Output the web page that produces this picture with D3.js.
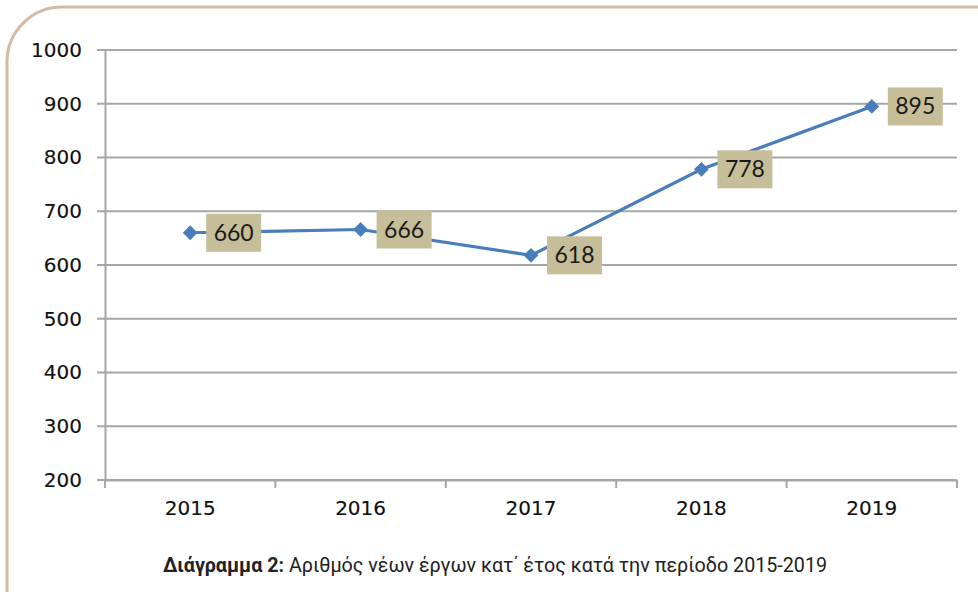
<!DOCTYPE html>
<head>
  <meta charset="utf-8">
  <script src="https://d3js.org/d3.v7.min.js"></script>
  <style>
    body { margin:0; background:#fff; }
    svg { display:block; }
  </style>
</head>
<body>
  <script>
    // chart values
    var years = ["2015", "2016", "2017", "2018", "2019"],
        projects = [660, 666, 618, 778, 895],
        yTicks = [200, 300, 400, 500, 600, 700, 800, 900, 1000];

    var W = 978, H = 592;
    var svg = d3.select("body").append("svg").attr("width", W).attr("height", H);

    // rounded frame
    svg.append("path")
      .attr("d", "M7,592 L7,62 A55,55 0 0 1 62,7 L978,7")
      .attr("fill", "none")
      .attr("stroke", "#d6b8a7")
      .attr("stroke-width", 3);

    var plotL = 105, plotR = 957, plotT = 50, plotB = 480;

    var x = d3.scaleBand().domain(years).range([plotL, plotR]);
    var y = d3.scaleLinear().domain([200, 1000]).range([plotB, plotT]);

    // gridlines
    svg.append("g").selectAll("line").data(yTicks)
      .enter().append("line")
        .attr("x1", plotL - 8).attr("x2", plotR)
        .attr("y1", function(d){ return y(d); })
        .attr("y2", function(d){ return y(d); })
        .attr("stroke", "#a6a6a6")
        .attr("stroke-width", 2);

    // y axis
    var yAxis = svg.append("g")
      .attr("transform", "translate(" + plotL + ",0)")
      .call(d3.axisLeft(y).tickValues(yTicks).tickFormat(d3.format("d")).tickSize(0).tickPadding(23));
    yAxis.select(".domain").attr("stroke", "#a6a6a6").attr("stroke-width", 2);
    yAxis.selectAll("text")
      .attr("font-family", "DejaVu Sans").attr("font-size", 20).attr("fill", "#111")
      .attr("stroke", "#111").attr("stroke-width", 0.15);

    // x axis
    var xAxis = svg.append("g")
      .attr("transform", "translate(0," + plotB + ")")
      .call(d3.axisBottom(x).tickSize(0).tickPadding(21));
    xAxis.select(".domain").attr("stroke", "#a6a6a6").attr("stroke-width", 2);
    xAxis.selectAll("text")
      .attr("font-family", "DejaVu Sans").attr("font-size", 20).attr("fill", "#111")
      .attr("stroke", "#111").attr("stroke-width", 0.15);
    svg.append("g").selectAll("line").data(years.concat(["end"]))
      .enter().append("line")
        .attr("x1", function(d, i){ return plotL + i * x.bandwidth(); })
        .attr("x2", function(d, i){ return plotL + i * x.bandwidth(); })
        .attr("y1", plotB).attr("y2", plotB + 8)
        .attr("stroke", "#a6a6a6").attr("stroke-width", 2);

    var cx = function(d, i){ return x(years[i]) + x.bandwidth() / 2; };

    // series line
    var line = d3.line()
      .x(function(d, i){ return cx(d, i); })
      .y(function(d){ return y(d); });
    svg.append("path").datum(projects)
      .attr("d", line)
      .attr("fill", "none")
      .attr("stroke", "#4a7ebb")
      .attr("stroke-width", 3.2);

    // diamond markers
    svg.append("g").selectAll("path").data(projects)
      .enter().append("path")
        .attr("d", d3.symbol().type(d3.symbolSquare).size(110))
        .attr("transform", function(d, i){ return "translate(" + cx(d, i) + "," + y(d) + ") rotate(45)"; })
        .attr("fill", "#4a7ebb");

    // data labels
    var lab = svg.append("g").selectAll("g").data(projects)
      .enter().append("g")
        .attr("transform", function(d, i){ return "translate(" + (cx(d, i) + 16) + "," + y(d) + ")"; });
    lab.append("rect")
      .attr("x", 0).attr("y", -19).attr("width", 55).attr("height", 38)
      .attr("fill", "#c6be98");
    lab.append("text")
      .attr("x", 27.5).attr("y", 8)
      .attr("text-anchor", "middle")
      .attr("font-family", "Lato").attr("font-size", 23)
      .attr("fill", "#1a1a1a")
      .text(function(d){ return d; });

    // caption
    var cap = svg.append("text")
      .attr("x", 495).attr("y", 572)
      .attr("text-anchor", "middle")
      .attr("font-family", "Roboto").attr("font-size", 19.7)
      .attr("fill", "#222");
    cap.append("tspan").attr("font-weight", "bold").text("Διάγραμμα 2:");
    cap.append("tspan").text(" Αριθμός νέων έργων κατ΄ έτος κατά την περίοδο 2015-2019");
  </script>
</body>
</html>
